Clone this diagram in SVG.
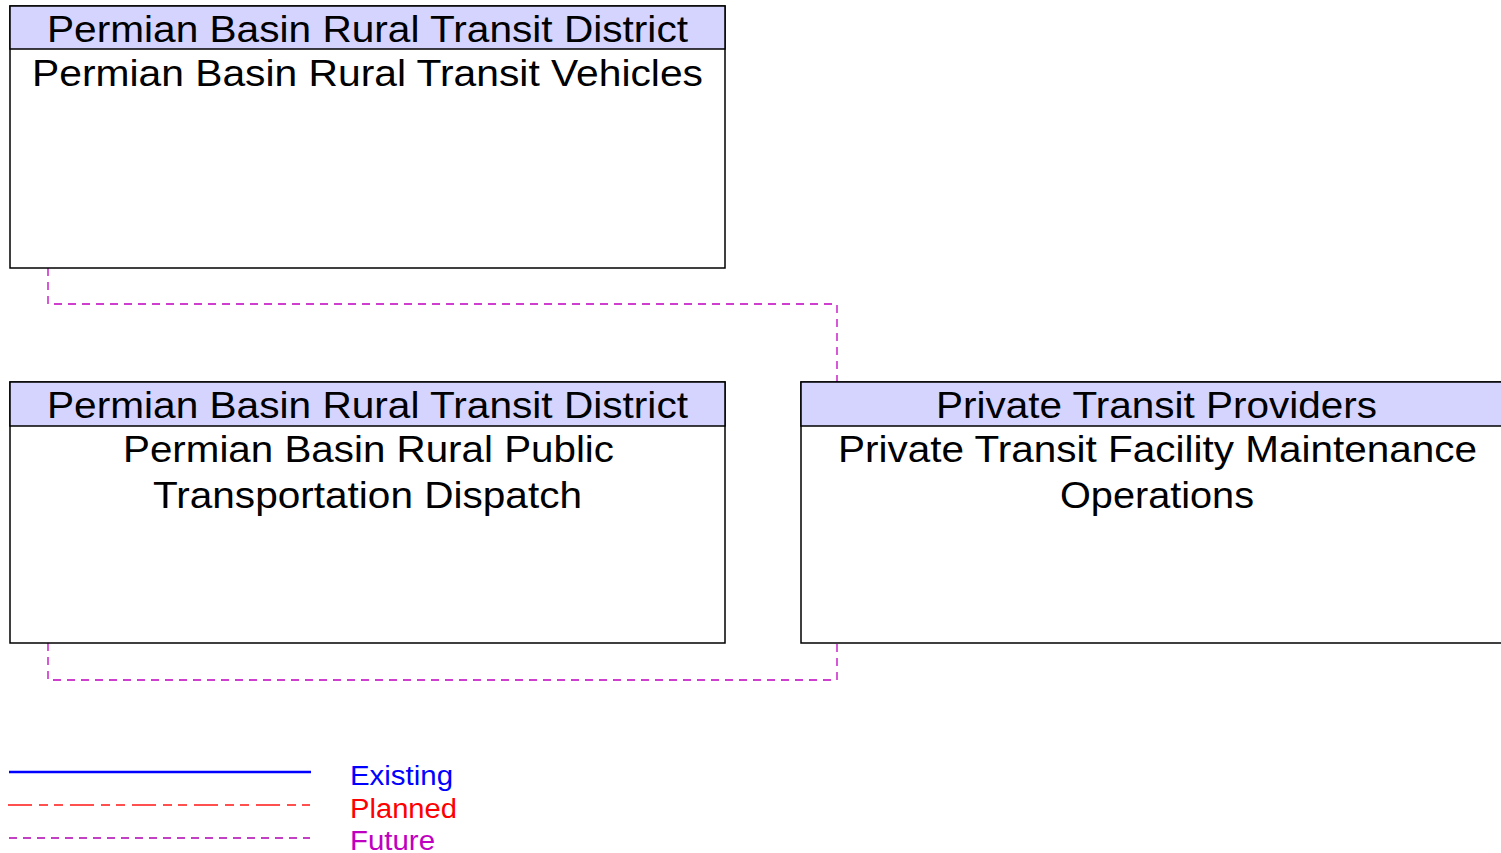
<svg xmlns="http://www.w3.org/2000/svg" width="1501" height="853" viewBox="0 0 1501 853">
<style>
.box{fill:#fff;stroke:#000;stroke-width:1.5}
.hdr{fill:#d4d4ff;stroke:#000;stroke-width:1.5}
.t{font-family:"Liberation Sans",Arial,sans-serif;font-size:37px;fill:#000;text-anchor:middle}
.fut{fill:none;stroke:#c000c0;stroke-width:1.3;stroke-dasharray:8,6}
.lg{font-family:"Liberation Sans",Arial,sans-serif;font-size:27px}
</style>
<rect width="1501" height="853" fill="#fff"/>
<g id="connectors">
<polyline class="fut" points="48,268 48,304 837,304 837,382"/>
<polyline class="fut" points="48,643 48,680 837,680 837,643"/>
</g>
<g id="node-vehicles">
<rect class="box" x="10" y="6" width="715" height="262"/>
<rect class="hdr" x="10" y="6" width="715" height="43"/>
<text class="t" x="367.5" y="42" textLength="641" lengthAdjust="spacingAndGlyphs">Permian Basin Rural Transit District</text>
<text class="t" x="367.5" y="86" textLength="671" lengthAdjust="spacingAndGlyphs">Permian Basin Rural Transit Vehicles</text>
</g>
<g id="node-dispatch">
<rect class="box" x="10" y="382" width="715" height="261"/>
<rect class="hdr" x="10" y="382" width="715" height="44"/>
<text class="t" x="367.5" y="418" textLength="641" lengthAdjust="spacingAndGlyphs">Permian Basin Rural Transit District</text>
<text class="t" x="368.5" y="462" textLength="491" lengthAdjust="spacingAndGlyphs">Permian Basin Rural Public</text>
<text class="t" x="367.5" y="508" textLength="429" lengthAdjust="spacingAndGlyphs">Transportation Dispatch</text>
</g>
<g id="node-private">
<rect class="box" x="801" y="382" width="715" height="261"/>
<rect class="hdr" x="801" y="382" width="715" height="44"/>
<text class="t" x="1156.5" y="418" textLength="441" lengthAdjust="spacingAndGlyphs">Private Transit Providers</text>
<text class="t" x="1157.5" y="462" textLength="639" lengthAdjust="spacingAndGlyphs">Private Transit Facility Maintenance</text>
<text class="t" x="1157" y="508" textLength="194" lengthAdjust="spacingAndGlyphs">Operations</text>
</g>
<g id="legend">
<line x1="9" y1="772" x2="311" y2="772" stroke="#0000ff" stroke-width="2.5"/>
<line x1="8" y1="805" x2="310" y2="805" stroke="#ff5050" stroke-width="2" stroke-dasharray="24,7,9,6,9,7"/>
<line x1="9" y1="838" x2="310" y2="838" stroke="#b000b0" stroke-width="1.3" stroke-dasharray="8,6"/>
<text class="lg" x="350" y="785" fill="#0000ff" textLength="103" lengthAdjust="spacingAndGlyphs">Existing</text>
<text class="lg" x="350" y="818" fill="#ff0000" textLength="107" lengthAdjust="spacingAndGlyphs">Planned</text>
<text class="lg" x="350" y="850" fill="#c000c0" textLength="85" lengthAdjust="spacingAndGlyphs">Future</text>
</g>
</svg>
